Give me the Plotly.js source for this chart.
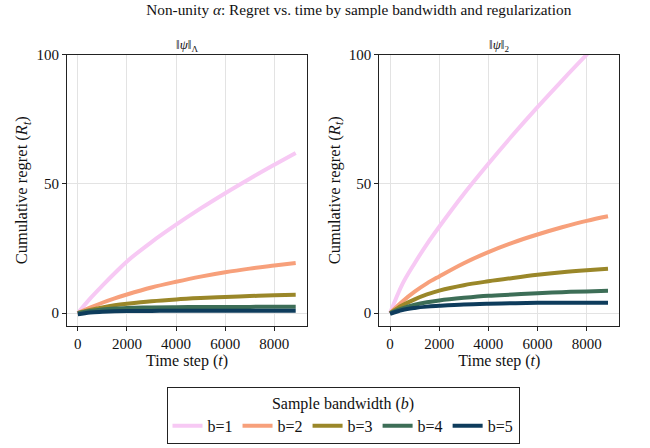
<!DOCTYPE html>
<html>
<head>
<meta charset="utf-8">
<script src="https://cdn.plot.ly/plotly-3.0.1.min.js"></script>
<style>html,body{margin:0;padding:0;background:#fff;}#plot{width:650px;height:448px;}</style>
</head>
<body>
<div id="plot"></div>
<script>
const timeSteps = [0, 500, 1000, 1500, 2000, 3000, 4000, 5000, 6000, 7000, 8000, 8870];
const bandwidthLabels = ["b=1", "b=2", "b=3", "b=4", "b=5"];
const colors = ["#f7c9f4", "#f7a07b", "#9a8729", "#3d6e57", "#0e3c5c"];

// Left panel: ||psi||_Lambda
const lamB1 = [0, 5.6, 10.6, 15.4, 20, 27.5, 34.2, 40.5, 46.4, 52, 57.4, 62];
const lamB2 = [0, 2.1, 4, 5.7, 7.2, 9.9, 12.1, 14.1, 15.8, 17.2, 18.4, 19.4];
const lamB3 = [0, 1.2, 2.2, 3, 3.6, 4.6, 5.3, 5.8, 6.2, 6.6, 6.9, 7.1];
const lamB4 = [0, 0.8, 1.4, 1.8, 2.0, 2.2, 2.3, 2.35, 2.4, 2.4, 2.45, 2.45];
const lamB5 = [-0.5, 0.2, 0.5, 0.7, 0.8, 0.85, 0.9, 0.9, 0.9, 0.9, 0.9, 0.9];

// Right panel: ||psi||_2
const l2B1 = [0, 11.2, 19.3, 26.7, 33.4, 46.1, 57.8, 69, 79.7, 90, 100, 108.5];
const l2B2 = [0, 4.5, 8.3, 11.5, 14.2, 19.3, 23.6, 27.3, 30.4, 33.2, 35.7, 37.5];
const l2B3 = [0, 3, 5.3, 7.2, 8.7, 10.8, 12.3, 13.6, 14.8, 15.8, 16.6, 17.2];
const l2B4 = [0, 1.8, 3.2, 4.2, 4.9, 5.9, 6.7, 7.2, 7.7, 8.1, 8.4, 8.6];
const l2B5 = [-0.3, 1.2, 2.0, 2.5, 2.8, 3.3, 3.6, 3.8, 3.95, 4.0, 4.0, 4.0];

const leftSeries = [lamB1, lamB2, lamB3, lamB4, lamB5];
const rightSeries = [l2B1, l2B2, l2B3, l2B4, l2B5];

const FONT = "Liberation Serif, DejaVu Serif, serif";
const traces = [];
leftSeries.forEach((ys, i) => {
  traces.push({x: timeSteps, y: ys, type: "scatter", mode: "lines", name: bandwidthLabels[i],
    line: {color: colors[i], width: 4, shape: "spline"}, xaxis: "x", yaxis: "y", legendgroup: bandwidthLabels[i], showlegend: true});
});
rightSeries.forEach((ys, i) => {
  traces.push({x: timeSteps, y: ys, type: "scatter", mode: "lines", name: bandwidthLabels[i],
    line: {color: colors[i], width: 4, shape: "spline"}, xaxis: "x2", yaxis: "y2", legendgroup: bandwidthLabels[i], showlegend: false});
});

const xAxisBase = {
  range: [-440, 9330], tickvals: [0, 2000, 4000, 6000, 8000],
  showgrid: true, gridcolor: "#e3e3e3", gridwidth: 1, zeroline: false,
  showline: true, linecolor: "#222", linewidth: 1, mirror: true,
  ticks: "outside", ticklen: 4, tickcolor: "#222",
  tickfont: {family: FONT, size: 15, color: "#111"},
  title: {text: "Time step (<i>t</i>)", font: {family: FONT, size: 16, color: "#111"}, standoff: 2}
};
const yAxisBase = {
  range: [-5, 100], tickvals: [0, 50, 100],
  showgrid: true, gridcolor: "#e3e3e3", gridwidth: 1, zeroline: false,
  showline: true, linecolor: "#222", linewidth: 1, mirror: true,
  ticks: "outside", ticklen: 4, tickcolor: "#222",
  tickfont: {family: FONT, size: 15, color: "#111"},
  title: {text: "Cumulative regret (<i>R<sub>t</sub></i>)", font: {family: FONT, size: 16.5, color: "#111"}, standoff: 4}
};

const layout = {
  width: 650, height: 448,
  margin: {l: 0, r: 0, t: 0, b: 0},
  paper_bgcolor: "#fff", plot_bgcolor: "#fff",
  font: {family: FONT, color: "#111"},
  title: {text: "Non-unity <i>α</i>: Regret vs. time by sample bandwidth and regularization",
    font: {family: FONT, size: 15.3, color: "#111"}, x: 0.552, xanchor: "center", y: 0.978, yanchor: "middle"},
  xaxis: Object.assign({}, xAxisBase, {domain: [67/650, 307/650], anchor: "y"}),
  yaxis: Object.assign({}, yAxisBase, {domain: [122/448, 393.3/448], anchor: "x"}),
  xaxis2: Object.assign({}, xAxisBase, {domain: [379.3/650, 619.3/650], anchor: "y2"}),
  yaxis2: Object.assign({}, yAxisBase, {domain: [122/448, 393.3/448], anchor: "x2"}),
  annotations: [
    {text: "‖<i>ψ</i>‖<sub>Λ</sub>", xref: "paper", yref: "paper", x: 187/650, y: (448-45)/448,
      xanchor: "center", yanchor: "middle", showarrow: false, font: {family: FONT, size: 13, color: "#111"}},
    {text: "‖<i>ψ</i>‖<sub>2</sub>", xref: "paper", yref: "paper", x: 499.3/650, y: (448-45)/448,
      xanchor: "center", yanchor: "middle", showarrow: false, font: {family: FONT, size: 13, color: "#111"}}
  ],
  showlegend: true,
  legend: {orientation: "h", x: 343/650, xanchor: "center", y: (448-387)/448, yanchor: "top",
    bordercolor: "#222", borderwidth: 1, bgcolor: "#fff",
    font: {family: FONT, size: 16, color: "#111"},
    title: {text: "Sample bandwidth (<i>b</i>)", side: "top center", font: {family: FONT, size: 16, color: "#111"}},
    itemwidth: 30, tracegroupgap: 0, traceorder: "normal"}
};

Plotly.newPlot("plot", traces, layout, {displayModeBar: false, staticPlot: true});
</script>
</body>
</html>
